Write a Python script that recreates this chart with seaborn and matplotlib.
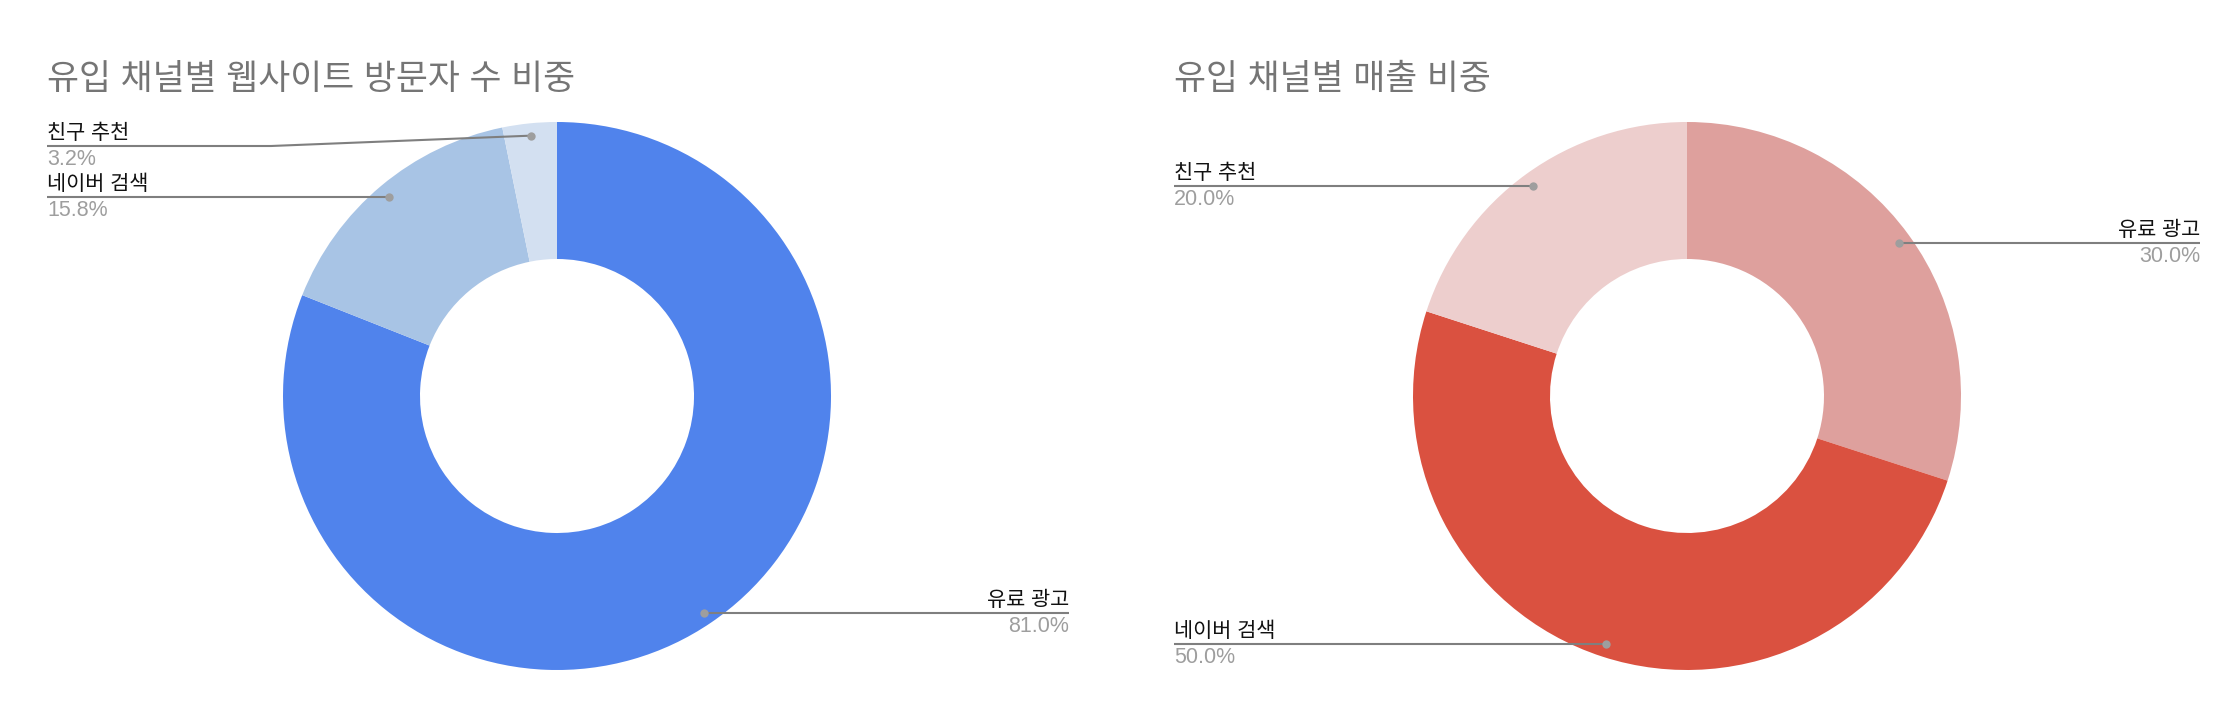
import numpy as np
import matplotlib
matplotlib.use("Agg")
import matplotlib.pyplot as plt
import seaborn as sns

# ---- data ----
titles = ["유입 채널별 웹사이트 방문자 수 비중", "유입 채널별 매출 비중"]
categories = ["유료 광고", "네이버 검색", "친구 추천"]
visitors_share = [81.0, 15.8, 3.2]
sales_share = [30.0, 50.0, 20.0]
visitor_colors = ["#5083EC", "#A8C4E5", "#D3E0F1"]
sales_colors = ["#DEA09D", "#DA5140", "#EDCECD"]

sns.set_theme(style="white")
plt.rcParams['font.family'] = ['Liberation Sans', 'Noto Sans CJK KR', 'DejaVu Sans']

W, H = 2240, 728
fig = plt.figure(figsize=(W / 100, H / 100), dpi=100)
ax = fig.add_axes([0, 0, 1, 1])
ax.set_xlim(0, W)
ax.set_ylim(0, H)
ax.set_aspect('equal')
ax.axis('off')

def Y(y_top):
    return H - y_top

R = 274
charts = [
    dict(title=titles[0], vals=visitors_share, colors=visitor_colors, cx=557, cy=396, tx=47,
         labels={  # category: (side, anchor x, line y, elbow x)
             "친구 추천": ("left", 47, 146, 271),
             "네이버 검색": ("left", 47, 197, None),
             "유료 광고": ("right", 1069, 613, None),
         }),
    dict(title=titles[1], vals=sales_share, colors=sales_colors, cx=1687, cy=396, tx=1174,
         labels={
             "친구 추천": ("left", 1174, 186, None),
             "유료 광고": ("right", 2200, 243, None),
             "네이버 검색": ("left", 1174, 644, None),
         }),
]

for ch in charts:
    cx, cy = ch["cx"], Y(ch["cy"])
    ax.pie(ch["vals"], colors=ch["colors"], startangle=90, counterclock=False,
           radius=R, center=(cx, cy), frame=True,
           wedgeprops=dict(width=R * 0.5, linewidth=0))
    ax.text(ch["tx"], Y(80), ch["title"], fontsize=25, color="#757575",
            ha="left", va="center")
    total = sum(ch["vals"])
    cum = 0.0
    for cat, v in zip(categories, ch["vals"]):
        mid = (cum + v / 2) / total * 2 * np.pi
        cum += v
        rr = 0.955 * R
        dx = cx + rr * np.sin(mid)
        dy = cy + rr * np.cos(mid)
        side, axx, ly, elbow = ch["labels"][cat]
        ly_ = Y(ly)
        if elbow is None:
            xs = [axx, dx]
            ys = [ly_, ly_ if abs(dy - ly_) < 4 else dy]
        else:
            xs = [axx, elbow, dx]
            ys = [ly_, ly_, dy]
        ax.plot(xs, ys, color="#7f7f7f", lw=1.5, solid_capstyle="butt", zorder=5)
        ax.plot([dx], [ys[-1]], "o", color="#9e9e9e", ms=6, mec="none", zorder=6)
        ha = "left" if side == "left" else "right"
        ax.text(axx, ly_ + 3, cat, fontsize=15, color="#111111", ha=ha, va="bottom")
        ax.text(axx, ly_ - 3, f"{v:.1f}%", fontsize=15.5, color="#9e9e9e", ha=ha, va="top")

ax.set_xlim(0, W)
ax.set_ylim(0, H)
fig.savefig("out.png", dpi=100, facecolor="white")
